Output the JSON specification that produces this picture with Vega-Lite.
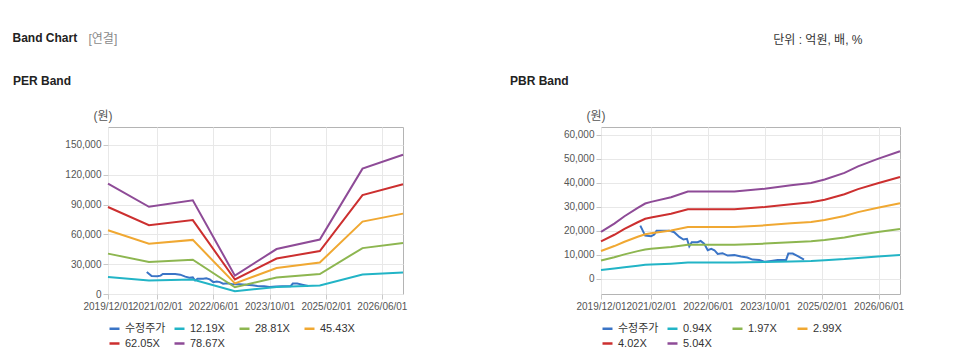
{
  "$schema": "https://vega.github.io/schema/vega-lite/v6.json",
  "background": "white",
  "padding": {"left": 12, "top": 31, "right": 0, "bottom": 0},
  "title": {"text": "Band Chart", "anchor": "start", "frame": "bounds", "fontSize": 12, "fontWeight": "bold", "color": "#222222", "offset": -12},
  "datasets": {
    "price": [
      {"date": "2020/11/01", "series": "수정주가", "value": 22200},
      {"date": "2020/12/13", "series": "수정주가", "value": 18050},
      {"date": "2021/02/01", "series": "수정주가", "value": 17800},
      {"date": "2021/03/01", "series": "수정주가", "value": 18470},
      {"date": "2021/03/20", "series": "수정주가", "value": 20100},
      {"date": "2021/05/10", "series": "수정주가", "value": 20100},
      {"date": "2021/07/05", "series": "수정주가", "value": 20100},
      {"date": "2021/08/18", "series": "수정주가", "value": 19450},
      {"date": "2021/10/01", "series": "수정주가", "value": 17500},
      {"date": "2021/11/05", "series": "수정주가", "value": 16400},
      {"date": "2021/12/05", "series": "수정주가", "value": 16700},
      {"date": "2021/12/25", "series": "수정주가", "value": 13600},
      {"date": "2022/01/15", "series": "수정주가", "value": 15300},
      {"date": "2022/03/05", "series": "수정주가", "value": 15300},
      {"date": "2022/04/01", "series": "수정주가", "value": 15800},
      {"date": "2022/05/01", "series": "수정주가", "value": 14700},
      {"date": "2022/06/01", "series": "수정주가", "value": 11950},
      {"date": "2022/07/01", "series": "수정주가", "value": 12500},
      {"date": "2022/07/28", "series": "수정주가", "value": 11950},
      {"date": "2022/08/25", "series": "수정주가", "value": 10400},
      {"date": "2022/10/05", "series": "수정주가", "value": 10700},
      {"date": "2022/11/18", "series": "수정주가", "value": 9700},
      {"date": "2023/01/15", "series": "수정주가", "value": 9900},
      {"date": "2023/03/12", "series": "수정주가", "value": 9300},
      {"date": "2023/05/05", "series": "수정주가", "value": 8900},
      {"date": "2023/06/18", "series": "수정주가", "value": 8050},
      {"date": "2023/08/15", "series": "수정주가", "value": 7900},
      {"date": "2023/10/01", "series": "수정주가", "value": 7100},
      {"date": "2023/11/25", "series": "수정주가", "value": 7500},
      {"date": "2024/01/20", "series": "수정주가", "value": 7900},
      {"date": "2024/04/01", "series": "수정주가", "value": 7900},
      {"date": "2024/04/20", "series": "수정주가", "value": 10550},
      {"date": "2024/05/28", "series": "수정주가", "value": 10550},
      {"date": "2024/07/10", "series": "수정주가", "value": 9450},
      {"date": "2024/09/01", "series": "수정주가", "value": 8050}
    ],
    "per": [
      {"date": "2019/12/01", "series": "12.19X", "value": 17188},
      {"date": "2020/11/20", "series": "12.19X", "value": 13592},
      {"date": "2021/12/05", "series": "12.19X", "value": 14604},
      {"date": "2022/12/05", "series": "12.19X", "value": 2865},
      {"date": "2023/12/01", "series": "12.19X", "value": 7009},
      {"date": "2024/12/10", "series": "12.19X", "value": 8496},
      {"date": "2025/12/15", "series": "12.19X", "value": 19541},
      {"date": "2026/12/01", "series": "12.19X", "value": 21698},
      {"date": "2019/12/01", "series": "28.81X", "value": 40622},
      {"date": "2020/11/20", "series": "28.81X", "value": 32123},
      {"date": "2021/12/05", "series": "28.81X", "value": 34514},
      {"date": "2022/12/05", "series": "28.81X", "value": 6770},
      {"date": "2023/12/01", "series": "28.81X", "value": 16566},
      {"date": "2024/12/10", "series": "28.81X", "value": 20081},
      {"date": "2025/12/15", "series": "28.81X", "value": 46182},
      {"date": "2026/12/01", "series": "28.81X", "value": 51282},
      {"date": "2019/12/01", "series": "45.43X", "value": 64056},
      {"date": "2020/11/20", "series": "45.43X", "value": 50654},
      {"date": "2021/12/05", "series": "45.43X", "value": 54425},
      {"date": "2022/12/05", "series": "45.43X", "value": 10676},
      {"date": "2023/12/01", "series": "45.43X", "value": 26122},
      {"date": "2024/12/10", "series": "45.43X", "value": 31665},
      {"date": "2025/12/15", "series": "45.43X", "value": 72824},
      {"date": "2026/12/01", "series": "45.43X", "value": 80865},
      {"date": "2019/12/01", "series": "62.05X", "value": 87491},
      {"date": "2020/11/20", "series": "62.05X", "value": 69186},
      {"date": "2021/12/05", "series": "62.05X", "value": 74336},
      {"date": "2022/12/05", "series": "62.05X", "value": 14582},
      {"date": "2023/12/01", "series": "62.05X", "value": 35679},
      {"date": "2024/12/10", "series": "62.05X", "value": 43249},
      {"date": "2025/12/15", "series": "62.05X", "value": 99466},
      {"date": "2026/12/01", "series": "62.05X", "value": 110449},
      {"date": "2019/12/01", "series": "78.67X", "value": 110925},
      {"date": "2020/11/20", "series": "78.67X", "value": 87717},
      {"date": "2021/12/05", "series": "78.67X", "value": 94247},
      {"date": "2022/12/05", "series": "78.67X", "value": 18487},
      {"date": "2023/12/01", "series": "78.67X", "value": 45235},
      {"date": "2024/12/10", "series": "78.67X", "value": 54833},
      {"date": "2025/12/15", "series": "78.67X", "value": 126108},
      {"date": "2026/12/01", "series": "78.67X", "value": 140033}
    ],
    "pbr": [
      {"date": "2019/12/01", "series": "0.94X", "value": 3656},
      {"date": "2020/03/24", "series": "0.94X", "value": 4301},
      {"date": "2020/06/19", "series": "0.94X", "value": 4868},
      {"date": "2020/10/10", "series": "0.94X", "value": 5521},
      {"date": "2020/12/13", "series": "0.94X", "value": 5856},
      {"date": "2021/02/01", "series": "0.94X", "value": 5987},
      {"date": "2021/07/22", "series": "0.94X", "value": 6341},
      {"date": "2021/12/13", "series": "0.94X", "value": 6789},
      {"date": "2022/05/01", "series": "0.94X", "value": 6789},
      {"date": "2023/01/15", "series": "0.94X", "value": 6789},
      {"date": "2023/10/01", "series": "0.94X", "value": 7012},
      {"date": "2024/05/13", "series": "0.94X", "value": 7274},
      {"date": "2024/11/01", "series": "0.94X", "value": 7461},
      {"date": "2025/02/25", "series": "0.94X", "value": 7721},
      {"date": "2025/08/13", "series": "0.94X", "value": 8244},
      {"date": "2025/12/07", "series": "0.94X", "value": 8748},
      {"date": "2026/05/25", "series": "0.94X", "value": 9326},
      {"date": "2026/12/01", "series": "0.94X", "value": 9923},
      {"date": "2019/12/01", "series": "1.97X", "value": 7661},
      {"date": "2020/03/24", "series": "1.97X", "value": 9013},
      {"date": "2020/06/19", "series": "1.97X", "value": 10203},
      {"date": "2020/10/10", "series": "1.97X", "value": 11570},
      {"date": "2020/12/13", "series": "1.97X", "value": 12273},
      {"date": "2021/02/01", "series": "1.97X", "value": 12547},
      {"date": "2021/07/22", "series": "1.97X", "value": 13290},
      {"date": "2021/12/13", "series": "1.97X", "value": 14227},
      {"date": "2022/05/01", "series": "1.97X", "value": 14227},
      {"date": "2023/01/15", "series": "1.97X", "value": 14227},
      {"date": "2023/10/01", "series": "1.97X", "value": 14696},
      {"date": "2024/05/13", "series": "1.97X", "value": 15244},
      {"date": "2024/11/01", "series": "1.97X", "value": 15636},
      {"date": "2025/02/25", "series": "1.97X", "value": 16182},
      {"date": "2025/08/13", "series": "1.97X", "value": 17277},
      {"date": "2025/12/07", "series": "1.97X", "value": 18333},
      {"date": "2026/05/25", "series": "1.97X", "value": 19544},
      {"date": "2026/12/01", "series": "1.97X", "value": 20795},
      {"date": "2019/12/01", "series": "2.99X", "value": 11628},
      {"date": "2020/03/24", "series": "2.99X", "value": 13679},
      {"date": "2020/06/19", "series": "2.99X", "value": 15485},
      {"date": "2020/10/10", "series": "2.99X", "value": 17560},
      {"date": "2020/12/13", "series": "2.99X", "value": 18628},
      {"date": "2021/02/01", "series": "2.99X", "value": 19043},
      {"date": "2021/07/22", "series": "2.99X", "value": 20171},
      {"date": "2021/12/13", "series": "2.99X", "value": 21594},
      {"date": "2022/05/01", "series": "2.99X", "value": 21594},
      {"date": "2023/01/15", "series": "2.99X", "value": 21594},
      {"date": "2023/10/01", "series": "2.99X", "value": 22305},
      {"date": "2024/05/13", "series": "2.99X", "value": 23137},
      {"date": "2024/11/01", "series": "2.99X", "value": 23732},
      {"date": "2025/02/25", "series": "2.99X", "value": 24560},
      {"date": "2025/08/13", "series": "2.99X", "value": 26222},
      {"date": "2025/12/07", "series": "2.99X", "value": 27825},
      {"date": "2026/05/25", "series": "2.99X", "value": 29664},
      {"date": "2026/12/01", "series": "2.99X", "value": 31562},
      {"date": "2019/12/01", "series": "4.02X", "value": 15634},
      {"date": "2020/03/24", "series": "4.02X", "value": 18392},
      {"date": "2020/06/19", "series": "4.02X", "value": 20820},
      {"date": "2020/10/10", "series": "4.02X", "value": 23609},
      {"date": "2020/12/13", "series": "4.02X", "value": 25045},
      {"date": "2021/02/01", "series": "4.02X", "value": 25603},
      {"date": "2021/07/22", "series": "4.02X", "value": 27119},
      {"date": "2021/12/13", "series": "4.02X", "value": 29032},
      {"date": "2022/05/01", "series": "4.02X", "value": 29032},
      {"date": "2023/01/15", "series": "4.02X", "value": 29032},
      {"date": "2023/10/01", "series": "4.02X", "value": 29989},
      {"date": "2024/05/13", "series": "4.02X", "value": 31107},
      {"date": "2024/11/01", "series": "4.02X", "value": 31907},
      {"date": "2025/02/25", "series": "4.02X", "value": 33020},
      {"date": "2025/08/13", "series": "4.02X", "value": 35255},
      {"date": "2025/12/07", "series": "4.02X", "value": 37410},
      {"date": "2026/05/25", "series": "4.02X", "value": 39882},
      {"date": "2026/12/01", "series": "4.02X", "value": 42435},
      {"date": "2019/12/01", "series": "5.04X", "value": 19600},
      {"date": "2020/03/24", "series": "5.04X", "value": 23058},
      {"date": "2020/06/19", "series": "5.04X", "value": 26102},
      {"date": "2020/10/10", "series": "5.04X", "value": 29600},
      {"date": "2020/12/13", "series": "5.04X", "value": 31399},
      {"date": "2021/02/01", "series": "5.04X", "value": 32100},
      {"date": "2021/07/22", "series": "5.04X", "value": 34000},
      {"date": "2021/12/13", "series": "5.04X", "value": 36399},
      {"date": "2022/05/01", "series": "5.04X", "value": 36399},
      {"date": "2023/01/15", "series": "5.04X", "value": 36399},
      {"date": "2023/10/01", "series": "5.04X", "value": 37598},
      {"date": "2024/05/13", "series": "5.04X", "value": 39000},
      {"date": "2024/11/01", "series": "5.04X", "value": 40002},
      {"date": "2025/02/25", "series": "5.04X", "value": 41399},
      {"date": "2025/08/13", "series": "5.04X", "value": 44201},
      {"date": "2025/12/07", "series": "5.04X", "value": 46902},
      {"date": "2026/05/25", "series": "5.04X", "value": 50002},
      {"date": "2026/12/01", "series": "5.04X", "value": 53202}
    ]
  },
  "vconcat": [
    {
      "title": {"text": "[연결]", "anchor": "start", "frame": "bounds", "fontWeight": "normal", "color": "#8a8a8a", "dx": 76, "offset": -12},
      "vconcat": [
        {
          "title": {"text": "단위 : 억원, 배, %", "anchor": "end", "frame": "bounds", "fontWeight": "normal", "color": "#333333", "dx": -42, "offset": 28},
          "hconcat": [
            {
              "width": 295,
              "height": 167,
              "title": {"text": "PER Band", "anchor": "start", "frame": "bounds"},
              "encoding": {
                "x": {
                  "field": "date", "type": "temporal",
                  "scale": {"domain": [{"year": 2019, "month": 12, "date": 1}, {"year": 2026, "month": 12, "date": 1}]},
                  "axis": {"title": null, "format": "%Y/%m/%d", "values": [{"year": 2019, "month": 12, "date": 1}, {"year": 2021, "month": 2, "date": 1}, {"year": 2022, "month": 6, "date": 1}, {"year": 2023, "month": 10, "date": 1}, {"year": 2025, "month": 2, "date": 1}, {"year": 2026, "month": 6, "date": 1}]}
                },
                "y": {
                  "field": "value", "type": "quantitative",
                  "scale": {"domain": [0, 168000], "nice": false, "zero": false},
                  "axis": {"title": "(원)", "format": ",d", "minExtent": 95, "values": [0, 30000, 60000, 90000, 120000, 150000]}
                },
                "color": {
                  "field": "series", "type": "nominal",
                  "scale": {"domain": ["수정주가", "12.19X", "28.81X", "45.43X", "62.05X", "78.67X"], "range": ["#3a74c6", "#22b4c6", "#8db650", "#f0a832", "#cc2f2f", "#8e4b97"]},
                  "legend": {"title": null}
                }
              },
              "layer": [
                {"data": {"name": "price"}, "mark": {"type": "line", "strokeWidth": 2}},
                {"data": {"name": "per"}, "mark": {"type": "line", "strokeWidth": 2}}
              ]
            },
            {
              "width": 299,
              "height": 167,
              "title": {"text": "PBR Band", "anchor": "start", "frame": "bounds"},
              "encoding": {
                "x": {
                  "field": "date", "type": "temporal",
                  "scale": {"domain": [{"year": 2019, "month": 12, "date": 1}, {"year": 2026, "month": 12, "date": 1}]},
                  "axis": {"title": null, "format": "%Y/%m/%d", "values": [{"year": 2019, "month": 12, "date": 1}, {"year": 2021, "month": 2, "date": 1}, {"year": 2022, "month": 6, "date": 1}, {"year": 2023, "month": 10, "date": 1}, {"year": 2025, "month": 2, "date": 1}, {"year": 2026, "month": 6, "date": 1}]}
                },
                "y": {
                  "field": "value", "type": "quantitative",
                  "scale": {"domain": [-6300, 63300], "nice": false, "zero": false},
                  "axis": {"title": "(원)", "format": ",d", "minExtent": 91, "values": [0, 10000, 20000, 30000, 40000, 50000, 60000]}
                },
                "color": {
                  "field": "series", "type": "nominal",
                  "scale": {"domain": ["수정주가", "0.94X", "1.97X", "2.99X", "4.02X", "5.04X"], "range": ["#3a74c6", "#22b4c6", "#8db650", "#f0a832", "#cc2f2f", "#8e4b97"]},
                  "legend": {"title": null}
                }
              },
              "layer": [
                {"data": {"name": "price"}, "mark": {"type": "line", "strokeWidth": 2}},
                {"data": {"name": "pbr"}, "mark": {"type": "line", "strokeWidth": 2}}
              ]
            }
          ],
          "spacing": 101,
          "resolve": {"scale": {"color": "independent", "y": "independent", "x": "independent"}, "legend": {"color": "independent"}}
        }
      ]
    }
  ],
  "config": {
    "font": "Liberation Sans, Noto Sans CJK KR, sans-serif",
    "view": {"stroke": "#b4b4b4"},
    "title": {"fontSize": 12, "fontWeight": "bold", "color": "#222222", "offset": 21},
    "axis": {
      "labelFontSize": 10, "labelColor": "#555555", "labelPadding": 2,
      "gridColor": "#e8e8e8", "tickColor": "#c8c8c8", "tickSize": 5,
      "domain": false, "labelOverlap": false,
      "titleFontSize": 12, "titleFontWeight": "normal", "titleColor": "#555555"
    },
    "axisY": {"titleAngle": 0, "titleAlign": "left", "titleBaseline": "bottom", "titleX": -15, "titleY": -5},
    "axisX": {"labelFlush": false},
    "legend": {
      "orient": "bottom", "direction": "horizontal", "columns": 4, "gridAlign": "all",
      "symbolType": "stroke", "symbolStrokeWidth": 2.5, "symbolSize": 100,
      "labelFontSize": 11, "labelColor": "#333333", "labelOffset": 4,
      "columnPadding": 3, "rowPadding": 3, "offset": 11
    }
  }
}
